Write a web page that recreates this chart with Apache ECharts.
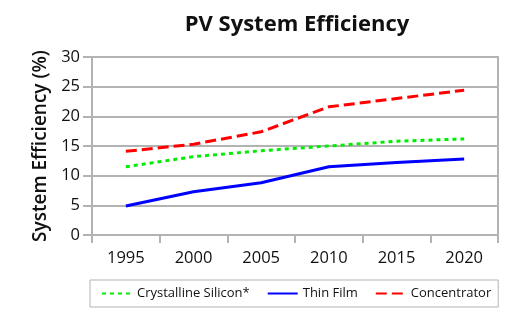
<!DOCTYPE html>
<html><head><meta charset="utf-8">
<script src="https://cdn.jsdelivr.net/npm/echarts@6/dist/echarts.min.js"></script>
<style>html,body{margin:0;padding:0;background:#fff}#c{width:520px;height:321px}</style>
</head><body><div id="c"></div>
<script>
var years = ['1995','2000','2005','2010','2015','2020'];
var crystalline = [11.5, 13.2, 14.2, 15.0, 15.8, 16.2];
var thinFilm = [4.9, 7.3, 8.8, 11.5, 12.2, 12.8];
var concentrator = [14.1, 15.3, 17.4, 21.6, 23.0, 24.4];
var yTicks = [0, 5, 10, 15, 20, 25, 30];

var F = '"Open Sans", "Liberation Sans", sans-serif';
var G = '#b3b3b3';
var chart = echarts.init(document.getElementById('c'), null, {renderer: 'canvas'});
chart.setOption({
  animation: false,
  title: {text: 'PV System Efficiency', left: 292, top: 9, textAlign: 'center',
    textStyle: {fontFamily: F, fontSize: 22, fontWeight: 'bold', color: '#111'}},
  grid: {left: 92, right: 22, top: 57, bottom: 86, show: true, borderColor: G, borderWidth: 2},
  xAxis: {type: 'category', data: years, boundaryGap: true,
    axisLine: {lineStyle: {color: G, width: 2}},
    axisTick: {show: true, length: 8, lineStyle: {color: G, width: 2}},
    axisLabel: {fontFamily: F, fontSize: 16.5, color: '#111', margin: 15},
    splitLine: {show: false}},
  yAxis: {type: 'value', min: yTicks[0], max: yTicks[yTicks.length - 1], interval: 5,
    name: 'System Efficiency (%)', nameLocation: 'middle', nameGap: 41, nameRotate: 90,
    nameTextStyle: {fontFamily: F, fontSize: 19, fontWeight: 600, color: '#111'},
    axisLine: {show: true, lineStyle: {color: G, width: 2}},
    axisTick: {show: true, length: 9, lineStyle: {color: G, width: 2}},
    axisLabel: {fontFamily: F, fontSize: 16.5, color: '#111', margin: 12},
    splitLine: {lineStyle: {color: G, width: 2}}},
  legend: {left: 90, top: 280, padding: [7, 7, 7, 11],
    borderColor: G, borderWidth: 1, itemWidth: 30, itemHeight: 14, itemGap: 17,
    itemStyle: {color: 'transparent', borderWidth: 0, opacity: 0},
    textStyle: {fontFamily: F, fontSize: 13, color: '#111'},
    data: ['Crystalline Silicon*', 'Thin Film', 'Concentrator']},
  series: [
    {name: 'Crystalline Silicon*', type: 'line', data: crystalline, symbol: 'none',
      itemStyle: {color: '#00ee00'},
      lineStyle: {color: '#00ee00', width: 3, type: [4, 4]}},
    {name: 'Thin Film', type: 'line', data: thinFilm, symbol: 'none',
      itemStyle: {color: '#0000ff'},
      lineStyle: {color: '#0000ff', width: 3}},
    {name: 'Concentrator', type: 'line', data: concentrator, symbol: 'none',
      itemStyle: {color: '#ff0000'},
      lineStyle: {color: '#ff0000', width: 3, type: [11, 5]}}
  ]
});
</script></body></html>
